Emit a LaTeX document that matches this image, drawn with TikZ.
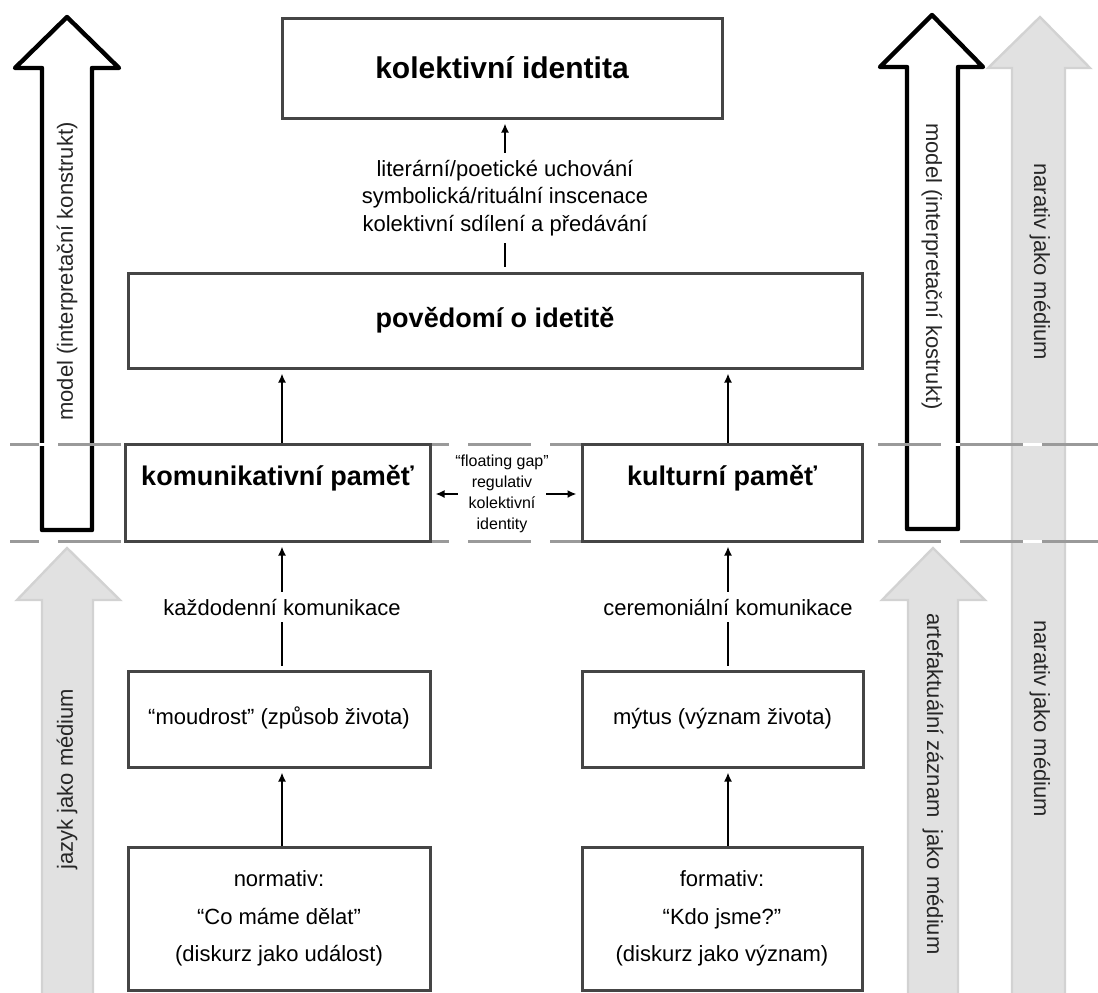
\documentclass[tikz,border=0pt]{standalone}
\usepackage{fontspec}
\setmainfont{Liberation Sans}
\usetikzlibrary{arrows.meta}
\pgfdeclarelayer{background}
\pgfsetlayers{background,main}
\definecolor{boxgray}{HTML}{454545}
\definecolor{arrowfill}{HTML}{E1E1E1}
\definecolor{arrowedge}{HTML}{D2D2D2}
\definecolor{dashgray}{HTML}{9A9A9A}

\begin{document}
\begin{tikzpicture}[x=0.5pt, y=-0.5pt,
						box/.style={rectangle, draw=boxgray, line width=1.5pt, fill=white, align=center},
						titlebox/.style={box, font=\bfseries\fontsize{15}{18}\selectfont},
						headbox/.style={box, font=\bfseries\fontsize{13.5}{16}\selectfont},
						pametbox/.style={headbox, text depth=17pt},
						textbox/.style={box, font=\fontsize{11}{13}\selectfont, text height=8pt, text depth=2.5pt},
						discbox/.style={box, font=\fontsize{11}{18.7}\selectfont},
						plain/.style={font=\fontsize{11}{13.8}\selectfont, align=center},
						small/.style={font=\fontsize{8}{10.5}\selectfont, align=center, inner sep=1pt},
						sidetext/.style={font=\fontsize{11}{13}\selectfont, text=black!85, inner sep=0pt},
						conn/.style={line width=1pt, -{Latex[length=4.5pt,width=4pt]}, shorten >=2pt},
						link/.style={line width=1pt},
						outlinearrow/.style={draw=black, line width=2.2pt, line join=round},
						shadearrow/.style={draw=arrowedge, fill=arrowfill, line width=1.2pt},
						sepline/.style={dashgray, line width=1.5pt, dash pattern=on 31.5pt off 9.5pt, dash phase=17pt},
						]
						\useasboundingbox (0,0) rectangle (1098,992);
						%Nodes
						\node[titlebox, minimum width=220pt, minimum height=50pt]     (ident)    at (502,68)      {kolektivní identita};
						\node[plain]                                                 (prenos)   at (505,198)     {literární/poetické uchování\\symbolická/rituální inscenace\\kolektivní sdílení a předávání};
						\node[headbox, minimum width=367pt, minimum height=47.5pt]    (povedomi) at (495,320.5)   {povědomí o idetitě};
						\node[pametbox, minimum width=152.5pt, minimum height=48.5pt] (kompam)   at (277.5,492.5) {komunikativní paměť};
						\node[pametbox, minimum width=140pt, minimum height=48.5pt]   (kultpam)  at (722,492.5)   {kulturní paměť};
						\node[small]                                                 (gap)      at (502,494)     {“floating gap”\\regulativ\\kolektivní\\identity};
						\node[plain]                                                 (kazdo)    at (282,607)     {každodenní komunikace};
						\node[plain]                                                 (cerem)    at (728,607)     {ceremoniální komunikace};
						\node[textbox, minimum width=151pt, minimum height=48pt]      (moudrost) at (279,719)     {“moudrost” (způsob života)};
						\node[textbox, minimum width=140.5pt, minimum height=48pt]    (mytus)    at (722.5,719)   {mýtus (význam života)};
						\node[discbox, minimum width=151pt, minimum height=71.5pt]    (normativ) at (279,918.5)   {normativ:\\“Co máme dělat”\\(diskurz jako událost)};
						\node[discbox, minimum width=140pt, minimum height=71.5pt]    (formativ) at (722,918.5)   {formativ:\\“Kdo jsme?”\\(diskurz jako význam)};

						\node[sidetext, rotate=90, anchor=east]   (modelL) at (67,122)   {model (interpretační konstrukt)};
						\node[sidetext, rotate=-90, anchor=west]  (modelR) at (932,123)  {model (interpretační kostrukt)};
						\node[sidetext, rotate=-90, anchor=west]  (narA)   at (1040,163) {narativ jako médium};
						\node[sidetext, rotate=-90, anchor=west]  (narB)   at (1040,620) {narativ jako médium};
						\node[sidetext, rotate=-90, anchor=west]  (artef)  at (933,613)  {artefaktuální záznam\ \ jako médium};
						\node[sidetext, rotate=90, anchor=west]   (jazyk)  at (67,870)   {jazyk jako médium};

						%Lines
						\draw[conn] (prenos.north) -- (prenos.north |- ident.south);
						\draw[link, shorten >=2.5pt] (prenos.south) -- (prenos.south |- povedomi.north);
						\draw[conn] (kompam.north -| kazdo) -- (kazdo |- povedomi.south);
						\draw[conn] (kultpam.north -| cerem) -- (cerem |- povedomi.south);
						\draw[conn] ([xshift=2.5pt]gap.west) -- (gap.west -| kompam.east);
						\draw[conn] ([xshift=-2.5pt]gap.east) -- (gap.east -| kultpam.west);

						\draw[conn] (kazdo.north) -- (kazdo.north |- kompam.south);
						\draw[link, shorten >=2pt] (kazdo.south) -- (kazdo.south |- moudrost.north);
						\draw[conn] (cerem.north) -- (cerem.north |- kultpam.south);
						\draw[link, shorten >=2pt] (cerem.south) -- (cerem.south |- mytus.north);
						\draw[conn] (normativ.north -| kazdo) -- (kazdo |- moudrost.south);
						\draw[conn] (formativ.north -| cerem) -- (cerem |- mytus.south);

						\begin{pgfonlayer}{background}
						%Arrows
						\draw[shadearrow] (1012,995) -- (1012,68) -- (988,68) -- (1040,17) -- (1090,68) -- (1065,68) -- (1065,995) -- cycle;
						\draw[shadearrow] (42,995) -- (42,600) -- (17,600) -- (67,548) -- (120,600) -- (93,600) -- (93,995) -- cycle;
						\draw[shadearrow] (908,995) -- (908,600) -- (882,600) -- (933,548) -- (985,600) -- (958,600) -- (958,995) -- cycle;
						\draw[outlinearrow] (42,530) -- (42,68) -- (15,68) -- (67,17) -- (119,68) -- (92,68) -- (92,530) -- cycle;
						\draw[outlinearrow] (907,529) -- (907,67) -- (880,67) -- (932,15) -- (983,67) -- (958,67) -- (958,529) -- cycle;
						%Separators
						\foreach \y in {444,541}{
							\draw[white, line width=1.5pt] (10,\y) -- (1098,\y);
							\draw[sepline] (10,\y) -- (1098,\y);
						}
						\end{pgfonlayer}
					\end{tikzpicture}
\end{document}
